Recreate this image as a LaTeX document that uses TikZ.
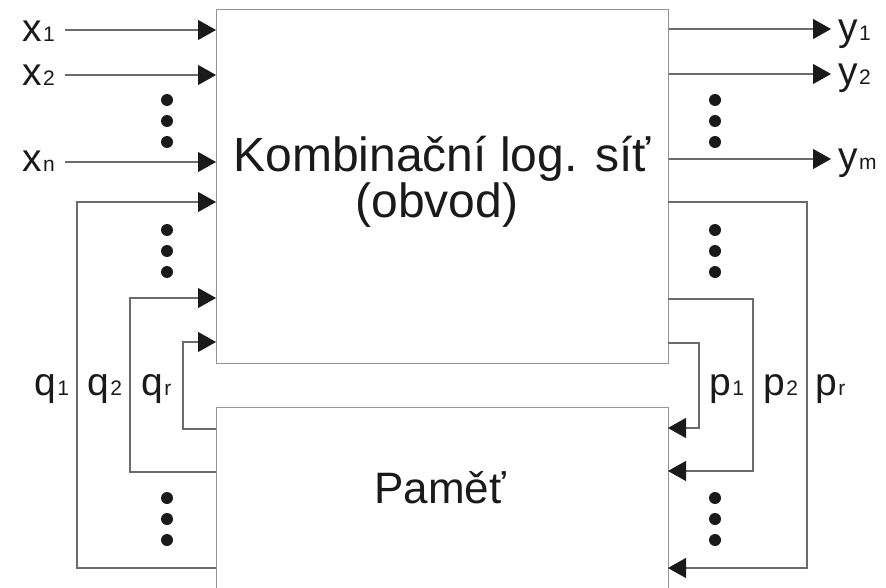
\documentclass[tikz,border=0pt]{standalone}
\usepackage{fontspec}
\setmainfont{Liberation Sans}
\usetikzlibrary{arrows.meta}
\newcommand\subsz{\fontsize{21}{21}\selectfont}
\newcommand\sigl[2]{#1\kern1.5pt{\subsz #2}}
\definecolor{ink}{HTML}{1A1A1A}
\begin{document}
\begin{tikzpicture}[x=1pt,y=-1pt,
  conn/.style={draw=black!58, line width=1.2pt,
    -{Triangle[length=18pt,width=20pt,color=ink]}},
  blockbox/.style={draw=black!42, line width=1.3pt, anchor=north west,
    inner sep=0pt},
  sig/.style={anchor=base west, inner sep=0pt, text=ink,
    font=\fontsize{39}{39}\selectfont},
  big/.style={anchor=base, inner sep=0pt, text=ink},
  dot/.style={fill=ink}]
\useasboundingbox (0,0) rectangle (886,588);

% combinational network and memory blocks
\node[blockbox, minimum width=452pt, minimum height=354pt] (kls) at (216,9) {};
\node[blockbox, minimum width=452pt, minimum height=220pt] (mem) at (216,407) {};
\node[big, font=\fontsize{48}{48}\selectfont] (t1) at (442,172) {Kombinační log. síť};
\node[big, font=\fontsize{48}{48}\selectfont] (t2) at (437,218) {(obvod)};
\node[big, font=\fontsize{44}{44}\selectfont] (t3) at (440,503) {Paměť};

% primary inputs
\node[sig] (lx1) at (22,42) {\sigl{x}{1}};
\node[sig] (lx2) at (22,86) {\sigl{x}{2}};
\node[sig] (lxn) at (22,172) {\sigl{x}{n}};
\coordinate (x1s) at (65,30);
\coordinate (x2s) at (65,75);
\coordinate (xns) at (65,162);
\draw[conn] (x1s) -- (x1s -| kls.west);
\draw[conn] (x2s) -- (x2s -| kls.west);
\draw[conn] (xns) -- (xns -| kls.west);

% primary outputs
\node[sig] (ly1) at (838,41) {\sigl{y}{1}};
\node[sig] (ly2) at (838,85) {\sigl{y}{2}};
\node[sig] (lym) at (838,170) {\sigl{y}{m}};
\coordinate (y1e) at (831,29);
\coordinate (y2e) at (831,74);
\coordinate (yme) at (831,159);
\draw[conn] (y1e -| kls.east) -- (y1e);
\draw[conn] (y2e -| kls.east) -- (y2e);
\draw[conn] (yme -| kls.east) -- (yme);

% state feedback q: memory -> network
\coordinate (q1i) at (216,202);
\coordinate (q2i) at (216,298);
\coordinate (qri) at (216,342);
\coordinate (q1o) at (216,568);
\coordinate (q2o) at (216,472);
\coordinate (qro) at (216,429);
\draw[conn] (q1o) -- ++(-139,0) |- (q1i);
\draw[conn] (q2o) -- ++(-86,0) |- (q2i);
\draw[conn] (qro) -- ++(-33,0) |- (qri);
\node[sig] (lq1) at (34,395) {\sigl{q}{1}};
\node[sig] (lq2) at (87,395) {\sigl{q}{2}};
\node[sig] (lqr) at (141,395) {\sigl{q}{r}};

% excitation p: network -> memory
\coordinate (p1o) at (668,343);
\coordinate (p2o) at (668,299);
\coordinate (pro) at (668,202);
\coordinate (p1i) at (668,428);
\coordinate (p2i) at (668,471);
\coordinate (pri) at (668,568);
\draw[conn] (p1o) -- ++(31,0) |- (p1i);
\draw[conn] (p2o) -- ++(85,0) |- (p2i);
\draw[conn] (pro) -- ++(139,0) |- (pri);
\node[sig] (lp1) at (709,395) {\sigl{p}{1}};
\node[sig] (lp2) at (763,395) {\sigl{p}{2}};
\node[sig] (lpr) at (815,395) {\sigl{p}{r}};

% ellipsis dots
\foreach \cx in {167,715}
  \foreach \cy in {100,230,498}
    \foreach \k in {0,21,42}
      \fill[dot] (\cx,\cy+\k) circle (6);
\end{tikzpicture}
\end{document}
